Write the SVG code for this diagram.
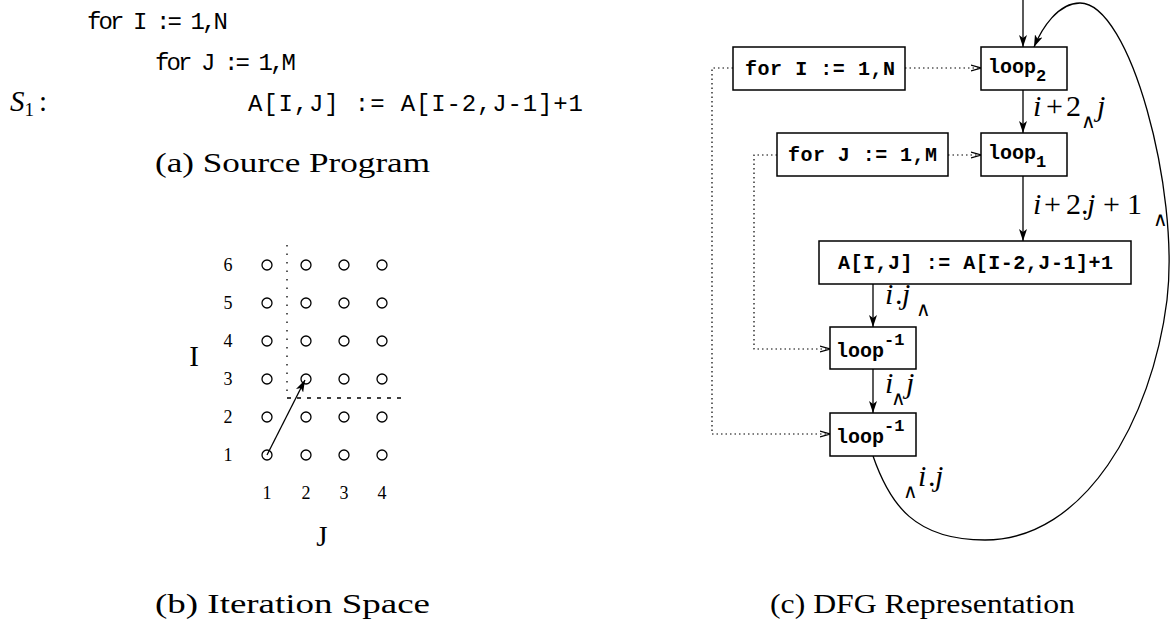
<svg xmlns="http://www.w3.org/2000/svg" width="1170" height="625" viewBox="0 0 1170 625">
<style>
.code{font-family:"Liberation Mono","DejaVu Sans Mono",monospace;font-size:24px;fill:#000}
.box{fill:#fff;stroke:#000;stroke-width:1.5}
.btxt{font-family:"Liberation Mono","DejaVu Sans Mono",monospace;font-size:20px;font-weight:bold;fill:#000}
.rm{font-family:"Liberation Serif","DejaVu Serif",serif;fill:#000}
.it{font-style:italic}
.cap{font-family:"Liberation Serif","DejaVu Serif",serif;font-size:27px;fill:#000}
.wedge{font-family:"DejaVu Sans",sans-serif;font-size:20px}
.solid{fill:none;stroke:#000;stroke-width:1.3}
.dot{fill:none;stroke:#000;stroke-width:1.2;stroke-dasharray:1.5,3}
.pt{fill:none;stroke:#000;stroke-width:1.3}
</style>
<defs>
<marker id="ah" viewBox="0 0 12 8" refX="12" refY="4" markerWidth="12" markerHeight="8" markerUnits="userSpaceOnUse" orient="auto">
<path d="M0,0 L12,4 L0,8 L3,4 Z" fill="#000"/>
</marker>
<marker id="oh" viewBox="0 0 10 8" refX="10" refY="4" markerWidth="10" markerHeight="8" markerUnits="userSpaceOnUse" orient="auto">
<path d="M0,1 L10,4 L0,7" fill="none" stroke="#000" stroke-width="1.2"/>
</marker>
</defs>

<!-- (a) Source Program -->
<g id="source">
<text class="code" x="87" y="29" textLength="141" lengthAdjust="spacing">for I := 1,N</text>
<text class="code" x="155" y="70" textLength="141" lengthAdjust="spacing">for J := 1,M</text>
<text class="rm" x="10" y="111" font-size="29"><tspan class="it">S</tspan><tspan font-size="19" dy="5">1</tspan><tspan dy="-5" dx="5">:</tspan></text>
<text class="code" x="248" y="111" textLength="335" lengthAdjust="spacing">A[I,J] := A[I-2,J-1]+1</text>
<text class="cap" x="155" y="172" textLength="275" lengthAdjust="spacingAndGlyphs">(a) Source Program</text>
</g>

<!-- (b) Iteration Space -->
<g id="iteration-space">
<g class="rm" font-size="18" text-anchor="middle">
<text x="228" y="271">6</text>
<text x="228" y="309">5</text>
<text x="228" y="347">4</text>
<text x="228" y="385">3</text>
<text x="228" y="423">2</text>
<text x="228" y="461">1</text>
<text x="267" y="499">1</text>
<text x="306" y="499">2</text>
<text x="344" y="499">3</text>
<text x="382" y="499">4</text>
</g>
<text class="rm" x="194" y="366" font-size="29" text-anchor="middle">I</text>
<text class="rm" x="322" y="546" font-size="29" text-anchor="middle">J</text>
<g class="pt">
<circle cx="267" cy="265" r="5"/><circle cx="306" cy="265" r="5"/><circle cx="344" cy="265" r="5"/><circle cx="382" cy="265" r="5"/>
<circle cx="267" cy="303" r="5"/><circle cx="306" cy="303" r="5"/><circle cx="344" cy="303" r="5"/><circle cx="382" cy="303" r="5"/>
<circle cx="267" cy="341" r="5"/><circle cx="306" cy="341" r="5"/><circle cx="344" cy="341" r="5"/><circle cx="382" cy="341" r="5"/>
<circle cx="267" cy="379" r="5"/><circle cx="306" cy="379" r="5"/><circle cx="344" cy="379" r="5"/><circle cx="382" cy="379" r="5"/>
<circle cx="267" cy="417" r="5"/><circle cx="306" cy="417" r="5"/><circle cx="344" cy="417" r="5"/><circle cx="382" cy="417" r="5"/>
<circle cx="267" cy="455" r="5"/><circle cx="306" cy="455" r="5"/><circle cx="344" cy="455" r="5"/><circle cx="382" cy="455" r="5"/>
</g>
<line x1="287" y1="245" x2="287" y2="398" stroke="#000" stroke-width="1.3" stroke-dasharray="1.5,7"/>
<line x1="287" y1="398" x2="404" y2="398" stroke="#000" stroke-width="1.3" stroke-dasharray="4,6"/>
<line x1="267" y1="455" x2="305" y2="380" class="solid" marker-end="url(#ah)"/>
<text class="cap" x="155" y="613" textLength="275" lengthAdjust="spacingAndGlyphs">(b) Iteration Space</text>
</g>

<!-- (c) DFG connectors -->
<g id="connectors">
<line class="solid" x1="1023" y1="0" x2="1023" y2="47" marker-end="url(#ah)"/>
<line class="solid" x1="1023" y1="90" x2="1023" y2="133" marker-end="url(#ah)"/>
<line class="solid" x1="1023" y1="176" x2="1023" y2="241" marker-end="url(#ah)"/>
<line class="solid" x1="873" y1="284" x2="873" y2="327" marker-end="url(#ah)"/>
<line class="solid" x1="873" y1="369" x2="873" y2="413" marker-end="url(#ah)"/>
<path class="solid" d="M873,456 C890,505 915,540 985,540 C1085,540 1152,420 1167,300 C1180,190 1130,3 1080,3 C1058,3 1042,28 1034,47" marker-end="url(#ah)"/>
<line class="dot" x1="905" y1="68" x2="981" y2="68" marker-end="url(#oh)"/>
<line class="dot" x1="948" y1="155" x2="981" y2="155" marker-end="url(#oh)"/>
<polyline class="dot" points="733,68 712,68 712,434 830,434" marker-end="url(#oh)"/>
<polyline class="dot" points="777,155 754,155 754,349 830,349" marker-end="url(#oh)"/>
<g class="rm" font-size="30">
<text y="116"><tspan class="it" x="1033">i</tspan><tspan x="1046">+</tspan><tspan x="1066">2</tspan><tspan class="wedge" x="1081" y="128">∧</tspan><tspan class="it" x="1097" y="116">j</tspan></text>
<text y="214"><tspan class="it" x="1033">i</tspan><tspan x="1044">+</tspan><tspan x="1066">2</tspan><tspan x="1081">.</tspan><tspan class="it" x="1087">j</tspan><tspan x="1103">+</tspan><tspan x="1127">1</tspan><tspan class="wedge" x="1153" y="226">∧</tspan></text>
<text y="304"><tspan class="it" x="885">i</tspan><tspan x="895">.</tspan><tspan class="it" x="902">j</tspan><tspan class="wedge" x="916" y="316">∧</tspan></text>
<text y="393"><tspan class="it" x="885">i</tspan><tspan class="wedge" x="891" y="405">∧</tspan><tspan class="it" x="906" y="393">j</tspan></text>
<text y="486"><tspan class="wedge" x="903" y="498">∧</tspan><tspan class="it" x="918" y="486">i</tspan><tspan x="928">.</tspan><tspan class="it" x="935">j</tspan></text>
</g>
</g>

<!-- (c) DFG nodes -->
<g id="forI">
<rect class="box" x="733" y="47" width="172" height="43"/>
<text class="btxt" x="745" y="75" textLength="150" lengthAdjust="spacing">for I := 1,N</text>
</g>
<g id="loop2">
<rect class="box" x="981" y="47" width="86" height="43"/>
<text class="btxt" x="988" y="73">loop<tspan font-size="17" dy="8">2</tspan></text>
</g>
<g id="forJ">
<rect class="box" x="777" y="133" width="171" height="43"/>
<text class="btxt" x="788" y="161" textLength="149" lengthAdjust="spacing">for J := 1,M</text>
</g>
<g id="loop1">
<rect class="box" x="981" y="133" width="86" height="43"/>
<text class="btxt" x="988" y="159">loop<tspan font-size="17" dy="8">1</tspan></text>
</g>
<g id="stmt">
<rect class="box" x="819" y="241" width="312" height="43"/>
<text class="btxt" x="838" y="269" textLength="275" lengthAdjust="spacing">A[I,J] := A[I-2,J-1]+1</text>
</g>
<g id="loopinv-a">
<rect class="box" x="830" y="327" width="86" height="42"/>
<text class="btxt" x="836" y="357">loop<tspan font-size="17" dy="-12">-1</tspan></text>
</g>
<g id="loopinv-b">
<rect class="box" x="830" y="413" width="86" height="43"/>
<text class="btxt" x="836" y="443">loop<tspan font-size="17" dy="-12">-1</tspan></text>
</g>
<text class="cap" x="770" y="613" textLength="305" lengthAdjust="spacingAndGlyphs">(c) DFG Representation</text>
</svg>
